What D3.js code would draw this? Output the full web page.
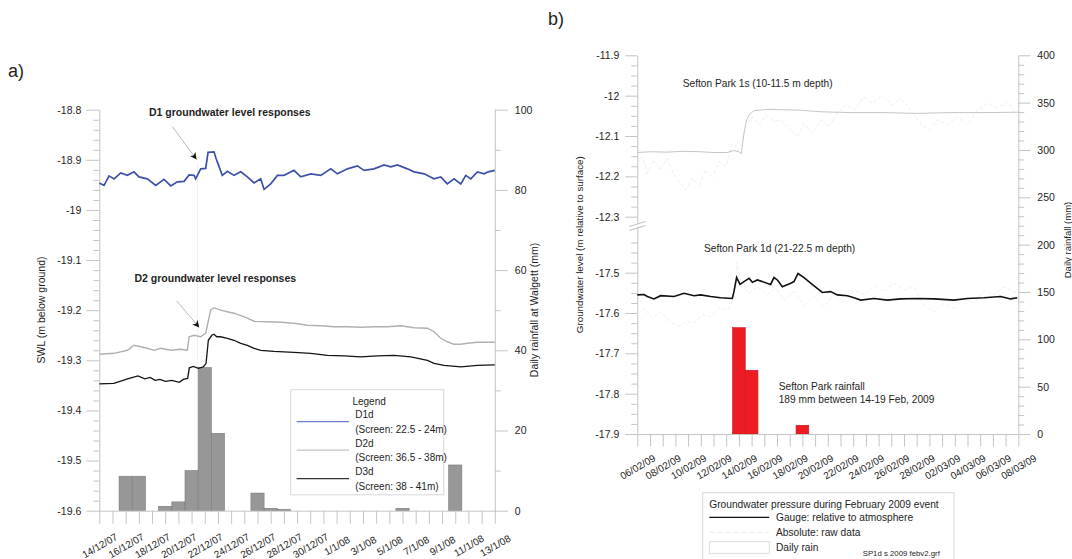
<!DOCTYPE html>
<html><head><meta charset="utf-8">
<script src="https://cdn.jsdelivr.net/npm/d3@7"></script>
<style>
body{margin:0;background:#fff}
svg{display:block}
text{font-family:"Liberation Sans",Arial,sans-serif;fill:#1e1e1e}
</style>
</head><body>
<svg id="c" width="1072" height="559"></svg>
<script>
// ---------------- DATA : panel a) Walgett ----------------
const aTickLabels = ["14/12/07","16/12/07","18/12/07","20/12/07","22/12/07","24/12/07","26/12/07","28/12/07","30/12/07","1/1/08","3/1/08","5/1/08","7/1/08","9/1/08","11/1/08","13/1/08"];
const aLevelTicks = [-18.8,-18.9,-19,-19.1,-19.2,-19.3,-19.4,-19.5,-19.6];
const aRainTicks = [0,20,40,60,80,100];
const aRainDays = [2,3,5,6,7,8,9,12,13,14,23,27];          // day offset from 14/12/07
const aRainMm   = [8.6,8.6,1.1,2.2,10,35.7,19.3,4.4,0.6,0.35,0.6,11.4];
const d1Level = [[0,-18.946],[0.36,-18.951],[0.74,-18.932],[1.12,-18.938],[1.62,-18.926],[2.13,-18.931],[2.63,-18.924],[3.01,-18.934],[3.64,-18.938],[4.28,-18.951],[4.91,-18.939],[5.42,-18.952],[5.92,-18.944],[6.43,-18.943],[6.81,-18.93],[7.19,-18.931],[7.31,-18.938],[7.69,-18.918],[8.07,-18.917],[8.25,-18.885],[8.7,-18.884],[8.85,-18.897],[8.95,-18.904],[9.33,-18.931],[9.71,-18.923],[10.22,-18.931],[10.73,-18.924],[11.23,-18.934],[11.74,-18.946],[12.24,-18.938],[12.5,-18.959],[13,-18.948],[13.51,-18.931],[14.01,-18.931],[14.77,-18.921],[15.28,-18.934],[16.04,-18.928],[16.8,-18.931],[17.56,-18.918],[18.06,-18.928],[18.82,-18.918],[19.58,-18.912],[20.08,-18.921],[20.84,-18.918],[21.6,-18.91],[22.11,-18.914],[22.61,-18.91],[23.37,-18.918],[23.88,-18.924],[24.64,-18.928],[25.39,-18.938],[25.9,-18.934],[26.4,-18.948],[26.91,-18.938],[27.42,-18.948],[27.8,-18.931],[28.18,-18.938],[28.68,-18.924],[29.19,-18.928],[29.5,-18.924],[30,-18.921]];
const d2Level = [[0,-19.288],[1.12,-19.286],[2.13,-19.28],[2.63,-19.27],[3.14,-19.273],[3.64,-19.276],[4.15,-19.28],[4.66,-19.276],[5.42,-19.28],[6.17,-19.278],[6.68,-19.28],[6.81,-19.253],[7.19,-19.25],[7.69,-19.253],[8.07,-19.246],[8.2,-19.23],[8.45,-19.2],[8.7,-19.195],[9.2,-19.2],[9.71,-19.203],[10.22,-19.206],[10.73,-19.211],[11.23,-19.216],[11.74,-19.222],[12.75,-19.223],[13.76,-19.224],[14.77,-19.226],[15.78,-19.23],[16.8,-19.231],[17.81,-19.233],[18.82,-19.233],[19.83,-19.234],[20.84,-19.233],[21.85,-19.233],[22.86,-19.231],[23.88,-19.235],[24.89,-19.236],[25.39,-19.243],[25.9,-19.256],[26.4,-19.263],[26.91,-19.268],[27.42,-19.268],[27.92,-19.266],[28.68,-19.264],[30,-19.264]];
const d3Level = [[0,-19.347],[1.1,-19.346],[2.15,-19.337],[2.93,-19.331],[3.45,-19.337],[3.85,-19.334],[4.24,-19.34],[4.6,-19.338],[5.02,-19.342],[5.5,-19.34],[6.07,-19.344],[6.37,-19.338],[6.7,-19.336],[6.83,-19.315],[7.13,-19.312],[7.51,-19.316],[7.89,-19.313],[8.1,-19.306],[8.27,-19.26],[8.53,-19.25],[8.7,-19.248],[8.91,-19.253],[9.2,-19.253],[9.71,-19.256],[10.22,-19.26],[10.73,-19.266],[11.23,-19.27],[11.74,-19.276],[12.24,-19.28],[13.25,-19.282],[14.77,-19.284],[16.04,-19.286],[17.3,-19.29],[18.57,-19.291],[19.83,-19.293],[21.1,-19.291],[22.36,-19.29],[23.63,-19.293],[24.89,-19.3],[25.39,-19.306],[26.15,-19.31],[27.42,-19.313],[28.68,-19.31],[30,-19.309]];
const aLegendNames = ["D1d","D2d","D3d"];
const aLegendScreens = ["(Screen: 22.5 - 24m)","(Screen: 36.5 - 38m)","(Screen: 38 - 41m)"];

// ---------------- DATA : panel b) Sefton Park ----------------
const bTickLabels = ["06/02/09","08/02/09","10/02/09","12/02/09","14/02/09","16/02/09","18/02/09","20/02/09","22/02/09","24/02/09","26/02/09","28/02/09","02/03/09","04/03/09","06/03/09","08/03/09"];
const bUpperTicks = [-11.9,-12,-12.1,-12.2,-12.3];
const bLowerTicks = [-17.5,-17.6,-17.7,-17.8,-17.9];
const bRainTicks = [0,50,100,150,200,250,300,350,400];
const bRainDays = [8,9,13];                                   // day offset from 06/02/09
const bRainMm   = [112.3,67.3,9.2];
const sp1sGauge = [[0,-12.141],[1,-12.139],[2.36,-12.14],[3.5,-12.138],[4.99,-12.139],[6,-12.141],[7.09,-12.141],[7.61,-12.136],[8,-12.139],[8.19,-12.143],[8.4,-12.093],[8.6,-12.06],[8.8,-12.048],[9.19,-12.037],[10.24,-12.034],[11.5,-12.035],[12.86,-12.036],[14.44,-12.04],[16.8,-12.042],[19.43,-12.042],[22.05,-12.044],[24.67,-12.042],[27.3,-12.042],[30,-12.041]];
const sp1sRaw = [[0,-12.168],[0.4,-12.151],[0.79,-12.193],[1.31,-12.16],[1.84,-12.184],[2.36,-12.155],[2.89,-12.197],[3.41,-12.218],[3.81,-12.234],[4.33,-12.205],[4.86,-12.222],[5.38,-12.184],[5.91,-12.201],[6.43,-12.164],[6.96,-12.176],[7.48,-12.118],[8.01,-12.135],[8.53,-12.077],[9.06,-12.052],[9.58,-12.073],[10.11,-12.048],[10.76,-12.064],[11.29,-12.06],[11.81,-12.077],[12.6,-12.102],[13.13,-12.069],[13.78,-12.093],[14.44,-12.06],[15.09,-12.077],[15.75,-12.044],[16.41,-12.023],[17.06,-12.036],[17.85,-12.003],[18.51,-12.019],[19.3,-11.999],[20.08,-12.023],[20.74,-12.007],[21.52,-12.036],[22.31,-12.069],[22.97,-12.086],[23.62,-12.06],[24.41,-12.073],[25.2,-12.052],[25.98,-12.073],[26.77,-12.036],[27.56,-12.019],[28.35,-12.031],[29.14,-12.015],[29.92,-12.052]];
const sp1dGauge = [[0,-17.555],[0.53,-17.554],[0.79,-17.559],[1.31,-17.565],[1.84,-17.557],[2.89,-17.559],[3.68,-17.551],[4.46,-17.557],[4.99,-17.555],[5.78,-17.559],[6.56,-17.562],[7.48,-17.564],[7.61,-17.547],[7.82,-17.512],[8.09,-17.529],[8.4,-17.522],[8.8,-17.514],[9.06,-17.524],[9.45,-17.518],[10.5,-17.529],[10.76,-17.512],[11.03,-17.518],[11.42,-17.535],[12.08,-17.526],[12.34,-17.522],[12.65,-17.502],[13.13,-17.512],[13.65,-17.526],[14.17,-17.539],[14.57,-17.549],[15.22,-17.547],[15.75,-17.555],[16.54,-17.557],[17.06,-17.562],[17.59,-17.568],[18.64,-17.564],[19.69,-17.568],[20.74,-17.565],[22.05,-17.564],[23.36,-17.565],[24.94,-17.568],[25.98,-17.564],[27.3,-17.562],[28.61,-17.559],[29.4,-17.565],[29.92,-17.562]];
const sp1dRaw = [[0,-17.601],[0.53,-17.588],[1.18,-17.613],[1.84,-17.597],[2.63,-17.621],[3.28,-17.634],[3.81,-17.621],[4.46,-17.625],[5.12,-17.605],[5.78,-17.609],[6.43,-17.588],[7.09,-17.592],[7.61,-17.564],[7.87,-17.473],[8.14,-17.531],[8.8,-17.551],[9.45,-17.535],[10.24,-17.555],[10.89,-17.539],[11.55,-17.568],[12.34,-17.547],[13.13,-17.58],[13.91,-17.559],[14.7,-17.584],[15.49,-17.555],[16.28,-17.572],[17.06,-17.543],[17.85,-17.555],[18.64,-17.531],[19.43,-17.547],[20.21,-17.526],[21,-17.543],[21.78,-17.535],[22.57,-17.58],[23.36,-17.597],[24.15,-17.576],[24.94,-17.588],[25.72,-17.564],[26.51,-17.576],[27.3,-17.543],[28.09,-17.555],[28.87,-17.535],[29.92,-17.551]];
const bLegendItems = ["Gauge: relative to atmosphere","Absolute: raw data","Daily rain"];

// ---------------- DRAWING ----------------
const svg = d3.select("#c");
svg.append("rect").attr("width",1072).attr("height",559).attr("fill","#fff");
const FONT = '"Liberation Sans", Arial, sans-serif';
const AX = "#c4c4c4";
const fmt = d => String(Math.round(d*1000)/1000);
const days = d3.range(0,31);

function styleAxis(g, fs){
  g.attr("font-family", FONT).attr("font-size", fs);
  g.select(".domain").attr("stroke", AX);
  g.selectAll(".tick line").attr("stroke", AX);
  g.selectAll(".tick text").attr("fill", "#1e1e1e");
  return g;
}
function minorAxis(g){ g.select(".domain").remove(); g.selectAll(".tick line").attr("stroke", AX); g.selectAll("text").remove(); }

svg.append("defs").append("marker").attr("id","arr").attr("viewBox","0 0 10 10")
  .attr("refX",10).attr("refY",5).attr("markerWidth",7).attr("markerHeight",7)
  .attr("markerUnits","userSpaceOnUse").attr("orient","auto")
  .append("path").attr("d","M0,0 L10,5 L0,10 L3,5 Z").attr("fill","#111");

// ======== Panel a ========
const xA = d3.scaleLinear().domain([0,30]).range([99.3,494.8]);
const yA = d3.scaleLinear().domain([-19.6,-18.8]).range([510.7,109.7]);
const rA = d3.scaleLinear().domain([0,100]).range([510.7,109.7]);

svg.append("line").attr("x1",197.6).attr("x2",197.6).attr("y1",163).attr("y2",505)
  .attr("stroke","#efefef").attr("stroke-width",1);

svg.append("g").selectAll("rect").data(aRainDays).join("rect")
  .attr("x",(d)=>xA(d-0.5)).attr("width",(d)=>xA(d+0.5)-xA(d-0.5))
  .attr("y",(d,i)=>rA(aRainMm[i])).attr("height",(d,i)=>rA(0)-rA(aRainMm[i]))
  .attr("fill","#979797").attr("stroke","#7c7c7c").attr("stroke-width",0.6);

const gAL = svg.append("g").attr("transform",`translate(${xA(0)},0)`)
  .call(d3.axisLeft(yA).tickValues(aLevelTicks).tickFormat(fmt).tickSize(13).tickSizeOuter(0).tickPadding(5));
styleAxis(gAL, 10.5);
const aMinor = d3.range(0,41).filter(i=>i%5).map(i=>-18.8-i*0.02);
svg.append("g").attr("transform",`translate(${xA(0)},0)`)
  .call(d3.axisLeft(yA).tickValues(aMinor).tickSize(6)).call(minorAxis);

const gAR = svg.append("g").attr("transform",`translate(${xA(30)},0)`)
  .call(d3.axisRight(rA).tickValues(aRainTicks).tickSize(13).tickSizeOuter(0).tickPadding(7));
styleAxis(gAR, 10.5);
svg.append("g").attr("transform",`translate(${xA(30)},0)`)
  .call(d3.axisRight(rA).tickValues([10,30,50,70,90]).tickSize(6)).call(minorAxis);

const gAB = svg.append("g").attr("transform",`translate(0,${rA(0)})`)
  .call(d3.axisBottom(xA).tickValues(days).tickSize(13).tickSizeOuter(0)
    .tickFormat(d => d%2===0 ? aTickLabels[d/2] : ""));
styleAxis(gAB, 10);
gAB.selectAll(".tick text").attr("y",null).attr("dy",null)
  .attr("text-anchor","middle").attr("dominant-baseline","central")
  .attr("transform","translate(0,35) rotate(-30)");

const lineA = d3.line().x(d=>xA(d[0])).y(d=>yA(d[1]));
svg.append("path").datum(d2Level).attr("d",lineA).attr("fill","none").attr("stroke","#b0b0b0").attr("stroke-width",1.4);
svg.append("path").datum(d3Level).attr("d",lineA).attr("fill","none").attr("stroke","#141414").attr("stroke-width",1.3);
svg.append("path").datum(d1Level).attr("d",lineA).attr("fill","none").attr("stroke","#3d51a8").attr("stroke-width",1.7);

svg.append("text").attr("transform","translate(44.5,310) rotate(-90)").attr("text-anchor","middle")
  .attr("font-size",10.5).text("SWL (m below ground)");
svg.append("text").attr("transform","translate(538,310) rotate(-90)").attr("text-anchor","middle")
  .attr("font-size",10.5).text("Daily rainfall at Walgett (mm)");

svg.append("text").attr("x",8).attr("y",77).attr("font-size",18).text("a)");

svg.append("text").attr("x",149).attr("y",115.5).attr("font-size",10.5).attr("font-weight","bold")
  .text("D1 groundwater level responses");
svg.append("line").attr("x1",172.4).attr("y1",126.6).attr("x2",196.6).attr("y2",159.5)
  .attr("stroke","#a8a8a8").attr("stroke-width",0.8).attr("marker-end","url(#arr)");
svg.append("text").attr("x",134.5).attr("y",282).attr("font-size",10.5).attr("font-weight","bold")
  .text("D2 groundwater level responses");
svg.append("line").attr("x1",176.6).attr("y1",300.7).attr("x2",199.3).attr("y2",327.5)
  .attr("stroke","#a8a8a8").attr("stroke-width",0.8).attr("marker-end","url(#arr)");

const legA = svg.append("g");
legA.append("rect").attr("x",290.7).attr("y",389.7).attr("width",153.1).attr("height",105.1)
  .attr("fill","#fff").attr("stroke","#d8d8d8").attr("stroke-width",1);
legA.append("text").attr("x",352.4).attr("y",405.2).attr("font-size",10).text("Legend");
const legColors = ["#6f7fd0","#c4c4c4","#333"];
aLegendNames.forEach((n,i)=>{
  const yl = 421.7 + i*28.45;
  legA.append("line").attr("x1",296.6).attr("x2",349).attr("y1",yl).attr("y2",yl)
    .attr("stroke",legColors[i]).attr("stroke-width",1.2);
  legA.append("text").attr("x",355.2).attr("y",yl-3.4).attr("font-size",10).text(n);
  legA.append("text").attr("x",355.2).attr("y",yl+11).attr("font-size",10).text(aLegendScreens[i]);
});

// ======== Panel b ========
const xB = d3.scaleLinear().domain([0,30]).range([637.3,1018.3]);
const yU = d3.scaleLinear().domain([-12.3,-11.9]).range([216.7,55.3]);
const yLo = d3.scaleLinear().domain([-17.9,-17.5]).range([434,272.7]);
const rB = d3.scaleLinear().domain([0,400]).range([434,55.3]);

svg.append("g").selectAll("rect").data(bRainDays).join("rect")
  .attr("x",d=>xB(d-0.5)).attr("width",d=>xB(d+0.5)-xB(d-0.5))
  .attr("y",(d,i)=>rB(bRainMm[i])).attr("height",(d,i)=>rB(0)-rB(bRainMm[i]))
  .attr("fill","#ed1c24").attr("stroke","#c8141b").attr("stroke-width",0.6);

const yUax = yU.copy().domain([yU.invert(222.5),-11.9]).range([222.5,55.3]);
const yLoax = yLo.copy().domain([-17.9,yLo.invert(225.5)]).range([434,225.5]);
const gBU = svg.append("g").attr("transform",`translate(${xB(0)},0)`)
  .call(d3.axisLeft(yUax).tickValues(bUpperTicks).tickFormat(fmt).tickSize(12).tickSizeOuter(0).tickPadding(6));
styleAxis(gBU, 10.5);
const gBL = svg.append("g").attr("transform",`translate(${xB(0)},0)`)
  .call(d3.axisLeft(yLoax).tickValues(bLowerTicks).tickFormat(fmt).tickSize(12).tickSizeOuter(0).tickPadding(6));
styleAxis(gBL, 10.5);
const upMinor = d3.range(0,17).filter(i=>i%4).map(i=>-11.9-i*0.025);
const loMinor = d3.range(-3,17).filter(i=>i%4).map(i=>-17.5-i*0.025);
svg.append("g").attr("transform",`translate(${xB(0)},0)`)
  .call(d3.axisLeft(yUax).tickValues(upMinor).tickSize(6)).call(minorAxis);
svg.append("g").attr("transform",`translate(${xB(0)},0)`)
  .call(d3.axisLeft(yLoax).tickValues(loMinor).tickSize(6)).call(minorAxis);
const bx = xB(0);
svg.append("path").attr("d",`M${bx-8},${226.5} L${bx+8},${221.5} L${bx+8},${225.5} L${bx-8},${230.5} Z`).attr("fill","#fff");
[0,4].forEach(o=>svg.append("line").attr("x1",bx-8).attr("y1",226.5+o).attr("x2",bx+8).attr("y2",221.5+o)
  .attr("stroke","#b8b8b8").attr("stroke-width",0.9));

const gBR = svg.append("g").attr("transform",`translate(${xB(30)},0)`)
  .call(d3.axisRight(rB).tickValues(bRainTicks).tickSize(12).tickSizeOuter(0).tickPadding(7));
styleAxis(gBR, 10.5);
svg.append("g").attr("transform",`translate(${xB(30)},0)`)
  .call(d3.axisRight(rB).tickValues(d3.range(0,401,10).filter(v=>v%50)).tickSize(6)).call(minorAxis);

const gBB = svg.append("g").attr("transform",`translate(0,${rB(0)})`)
  .call(d3.axisBottom(xB).tickValues(days).tickSize(12.5).tickSizeOuter(0)
    .tickFormat(d => d%2===0 ? bTickLabels[d/2] : ""));
styleAxis(gBB, 10);
gBB.selectAll(".tick text").attr("y",null).attr("dy",null)
  .attr("text-anchor","middle").attr("dominant-baseline","central")
  .attr("transform","translate(0,33) rotate(-30)");

const lineU = d3.line().x(d=>xB(d[0])).y(d=>yU(d[1]));
const lineL = d3.line().x(d=>xB(d[0])).y(d=>yLo(d[1]));
svg.append("path").datum(sp1sRaw).attr("d",lineU).attr("fill","none").attr("stroke","#e6e6e6").attr("stroke-width",0.7).attr("stroke-dasharray","4,2");
svg.append("path").datum(sp1dRaw).attr("d",lineL).attr("fill","none").attr("stroke","#e8e8e8").attr("stroke-width",0.7).attr("stroke-dasharray","4,2");
svg.append("path").datum(sp1sGauge).attr("d",lineU).attr("fill","none").attr("stroke","#c6c6c6").attr("stroke-width",1);
svg.append("path").datum(sp1dGauge).attr("d",lineL).attr("fill","none").attr("stroke","#111").attr("stroke-width",1.6);

svg.append("text").attr("x",548).attr("y",25).attr("font-size",18).text("b)");
svg.append("text").attr("x",682.7).attr("y",87).attr("font-size",10.2).text("Sefton Park 1s (10-11.5 m depth)");
svg.append("text").attr("x",704).attr("y",252).attr("font-size",10.2).text("Sefton Park 1d (21-22.5 m depth)");
svg.append("text").attr("x",778.7).attr("y",390).attr("font-size",10.2).text("Sefton Park rainfall");
svg.append("text").attr("x",778.7).attr("y",402.5).attr("font-size",10.2).text("189 mm between 14-19 Feb, 2009");
svg.append("text").attr("transform","translate(583,244.7) rotate(-90)").attr("text-anchor","middle")
  .attr("font-size",9.8).text("Groundwater level (m relative to surface)");
svg.append("text").attr("transform","translate(1070.5,240) rotate(-90)").attr("text-anchor","middle")
  .attr("font-size",9.5).text("Daily rainfall (mm)");

const legB = svg.append("g");
legB.append("rect").attr("x",702.7).attr("y",492.7).attr("width",251.3).attr("height",80)
  .attr("fill","#fff").attr("stroke","#d8d8d8").attr("stroke-width",1);
legB.append("text").attr("x",709.3).attr("y",508.3).attr("font-size",10.2).text("Groundwater pressure during February 2009 event");
legB.append("line").attr("x1",709.3).attr("x2",769.3).attr("y1",517.3).attr("y2",517.3).attr("stroke","#111").attr("stroke-width",1.3);
legB.append("line").attr("x1",709.3).attr("x2",769.3).attr("y1",532.3).attr("y2",532.3).attr("stroke","#e4e4e4").attr("stroke-width",0.8).attr("stroke-dasharray","5,3");
legB.append("rect").attr("x",709.3).attr("y",541.7).attr("width",60).attr("height",11.6).attr("fill","none").attr("stroke","#d4d4d4").attr("stroke-width",0.8);
bLegendItems.forEach((t,i)=>legB.append("text").attr("x",776).attr("y",521+i*15).attr("font-size",10.2).text(t));
legB.append("text").attr("x",862.7).attr("y",555.5).attr("font-size",7.8).text("SP1d s 2009 febv2.grf");
</script>
</body></html>
